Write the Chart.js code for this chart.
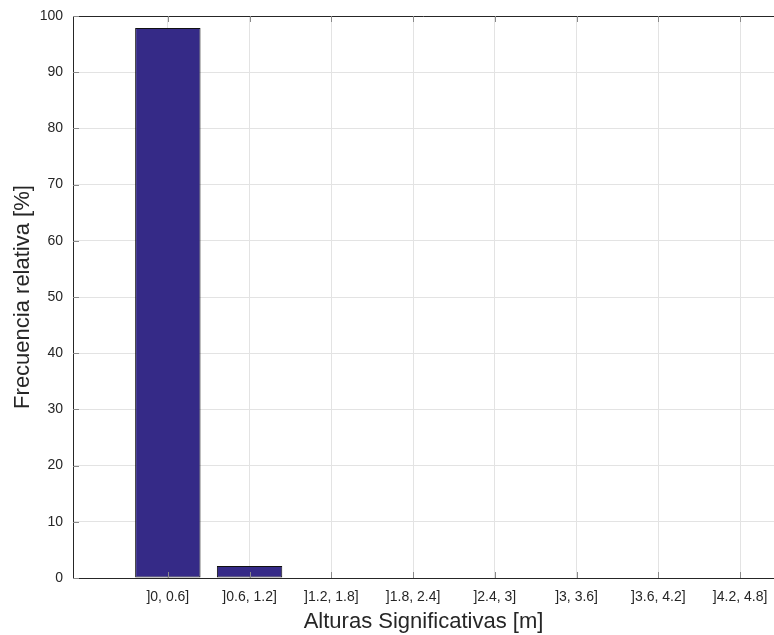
<!DOCTYPE html>
<html>
<head>
<meta charset="utf-8">
<script src="https://cdn.jsdelivr.net/npm/chart.js@4/dist/chart.umd.min.js"></script>
<style>
  body { margin: 0; background: #fff; }
  #wrap { width: 774px; height: 635px; }
</style>
</head>
<body>
<div id="wrap"><canvas id="canvas" width="774" height="635"></canvas></div>
<script>
// datos
const categorias = [']0, 0.6]', ']0.6, 1.2]', ']1.2, 1.8]', ']1.8, 2.4]', ']2.4, 3]', ']3, 3.6]', ']3.6, 4.2]', ']4.2, 4.8]'];
const frecuencia = [97.87, 2.13, 0, 0, 0, 0, 0, 0];
const yTicks = [0, 10, 20, 30, 40, 50, 60, 70, 80, 90, 100];

const fuente = "'Liberation Sans', Arial, Helvetica, sans-serif";
const ejeColor = '#262626';

// marco superior y marcas hacia dentro (estilo matlab)
const marco = {
    id: 'marco',
    afterDraw(chart) {
        const { ctx, chartArea: a, scales } = chart;
        ctx.save();
        ctx.strokeStyle = ejeColor;
        ctx.lineWidth = 1;
        ctx.beginPath();
        ctx.moveTo(a.left, a.top + 0.5);
        ctx.lineTo(a.right, a.top + 0.5);
        ctx.stroke();
        ctx.strokeStyle = '#8a8a8a';
        ctx.beginPath();
        scales.x.ticks.forEach(t => {
            const px = Math.round(scales.x.getPixelForValue(t.value)) + 0.5;
            ctx.moveTo(px, a.bottom); ctx.lineTo(px, a.bottom - 6);
            ctx.moveTo(px, a.top); ctx.lineTo(px, a.top + 6);
        });
        scales.y.ticks.forEach(t => {
            const py = Math.round(scales.y.getPixelForValue(t.value)) + 0.5;
            ctx.moveTo(a.left, py); ctx.lineTo(a.left + 6, py);
        });
        ctx.stroke();
        ctx.restore();
    }
};

const ctx = document.getElementById('canvas');
const grafico = new Chart(ctx, {
    type: 'bar',
    data: {
        datasets: [{
            data: frecuencia.map((v, i) => ({ x: i + 1, y: v })),
            backgroundColor: '#352a87',
            borderColor: '#111111',
            borderWidth: 1,
            borderSkipped: false,
            categoryPercentage: 0.8,
            barPercentage: 1
        }]
    },
    plugins: [marco],
    options: {
        responsive: false,
        animation: false,
        layout: { padding: { top: 16, right: 0, left: 0, bottom: 0 } },
        plugins: { legend: { display: false }, tooltip: { enabled: false } },
        scales: {
            x: {
                type: 'linear',
                offset: false,
                min: -0.16,
                max: 8.415,
                afterBuildTicks: s => { s.ticks = categorias.map((c, i) => ({ value: i + 1 })); },
                afterFit: s => { s.height = 57; s.paddingLeft = 0; s.paddingRight = 0; },
                ticks: {
                    callback: (v) => categorias[v - 1],
                    color: ejeColor,
                    font: { family: fuente, size: 14 },
                    padding: 11,
                    maxRotation: 0,
                    autoSkip: false
                },
                grid: { color: '#e3e3e3', drawTicks: false, offset: false },
                border: { color: ejeColor, width: 1 },
                title: {
                    display: true,
                    text: 'Alturas Significativas [m]',
                    color: ejeColor,
                    font: { family: fuente, size: 22 },
                    padding: { top: 1, bottom: 0 }
                }
            },
            y: {
                min: 0,
                max: 100,
                afterBuildTicks: s => { s.ticks = yTicks.map(v => ({ value: v })); },
                afterFit: s => { s.width = 73; s.paddingTop = 0; s.paddingBottom = 0; },
                ticks: {
                    color: ejeColor,
                    font: { family: fuente, size: 14 },
                    padding: 10
                },
                grid: { color: '#e3e3e3', drawTicks: false },
                border: { color: ejeColor, width: 1 },
                title: {
                    display: true,
                    text: 'Frecuencia relativa [%]',
                    color: ejeColor,
                    font: { family: fuente, size: 22 },
                    padding: { top: 10, bottom: 0 }
                }
            }
        }
    }
});
</script>
</body>
</html>
